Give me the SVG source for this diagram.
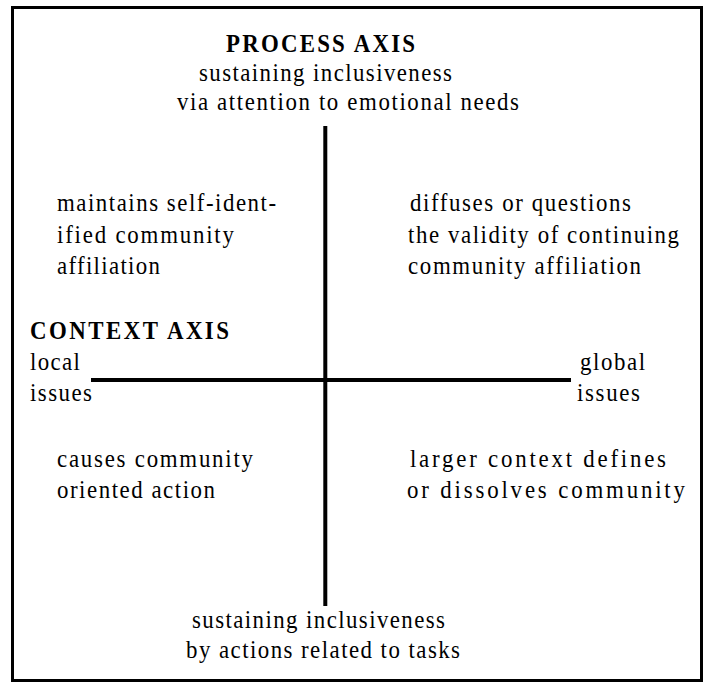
<svg xmlns="http://www.w3.org/2000/svg" width="704" height="682" viewBox="0 0 704 682">
<style>
text{font-family:"Liberation Serif","Times New Roman",serif;font-size:26px;fill:#000;font-variant-ligatures:none}
.b{font-weight:bold}
.axis{stroke:#000;stroke-width:4;fill:none}
</style>
<rect x="0" y="0" width="704" height="682" fill="#fff"/>
<rect id="frame" x="12.5" y="7.5" width="689" height="673" fill="none" stroke="#000" stroke-width="3"/>
<g id="connectors">
<line class="axis" x1="325.3" y1="126" x2="325.3" y2="606"/>
<line class="axis" x1="91" y1="380" x2="571" y2="380"/>
</g>
<g id="process-axis">
<text class="b" transform="translate(226 52) scale(.88 1)" textLength="214.8" lengthAdjust="spacing">PROCESS AXIS</text>
<text transform="translate(199 81) scale(.88 1)" textLength="287.5" lengthAdjust="spacing">sustaining inclusiveness</text>
<text transform="translate(177 110) scale(.88 1)" textLength="388.6" lengthAdjust="spacing">via attention to emotional needs</text>
</g>
<g id="q-top-left">
<text transform="translate(57 211) scale(.88 1)" textLength="248.9" lengthAdjust="spacing">maintains self-ident-</text>
<text transform="translate(57 243) scale(.88 1)" textLength="201.1" lengthAdjust="spacing">ified community</text>
<text transform="translate(57 274) scale(.88 1)" textLength="117" lengthAdjust="spacing">affiliation</text>
</g>
<g id="q-top-right">
<text transform="translate(410 211) scale(.88 1)" textLength="251.1" lengthAdjust="spacing">diffuses or questions</text>
<text transform="translate(408 243) scale(.88 1)" textLength="308" lengthAdjust="spacing">the validity of continuing</text>
<text transform="translate(408 274) scale(.88 1)" textLength="264.8" lengthAdjust="spacing">community affiliation</text>
</g>
<g id="context-axis">
<text class="b" transform="translate(30 339) scale(.88 1)" textLength="226.1" lengthAdjust="spacing">CONTEXT AXIS</text>
<text transform="translate(30 370) scale(.88 1)" textLength="56.8" lengthAdjust="spacing">local</text>
<text transform="translate(30 401) scale(.88 1)" textLength="70.5" lengthAdjust="spacing">issues</text>
</g>
<g id="global">
<text transform="translate(580 370) scale(.88 1)" textLength="73.9" lengthAdjust="spacing">global</text>
<text transform="translate(577 401) scale(.88 1)" textLength="71.6" lengthAdjust="spacing">issues</text>
</g>
<g id="q-bottom-left">
<text transform="translate(57 467) scale(.88 1)" textLength="222.7" lengthAdjust="spacing">causes community</text>
<text transform="translate(57 498) scale(.88 1)" textLength="179.5" lengthAdjust="spacing">oriented action</text>
</g>
<g id="q-bottom-right">
<text transform="translate(410 467) scale(.88 1)" textLength="290.9" lengthAdjust="spacing">larger context defines</text>
<text transform="translate(407 498) scale(.88 1)" textLength="315.9" lengthAdjust="spacing">or dissolves community</text>
</g>
<g id="task-axis">
<text transform="translate(192 628) scale(.88 1)" textLength="287.5" lengthAdjust="spacing">sustaining inclusiveness</text>
<text transform="translate(186 658) scale(.88 1)" textLength="311.4" lengthAdjust="spacing">by actions related to tasks</text>
</g>
</svg>
